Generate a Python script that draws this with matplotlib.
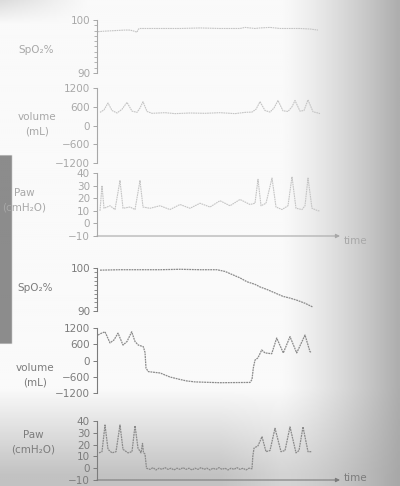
import numpy as np
import matplotlib
matplotlib.use("Agg")
import matplotlib.pyplot as plt

# ---------------- data (time in arbitrary units) ----------------
# Top group (normal)
top_spo2_t = [1, 8, 18, 28, 33, 37, 40, 41.5, 43, 63, 83, 103, 123, 143, 148, 153, 158, 163, 173, 183, 193, 203, 213, 221]
top_spo2_v = [97.8, 97.9, 98.0, 98.1, 98.1, 97.9, 97.7, 98.3, 98.4, 98.4, 98.4, 98.5, 98.4, 98.4, 98.6, 98.5, 98.4, 98.5, 98.6, 98.4, 98.4, 98.4, 98.3, 98.1]

top_vol_t = [3, 7, 11, 15, 20, 25, 30, 35, 40, 43, 46, 50, 55, 68, 78, 93, 108, 123, 138, 148, 155, 159, 163, 168, 173, 177, 181, 186, 191, 195, 198, 203, 207, 211, 216, 221, 223]
top_vol_v = [420, 500, 720, 480, 400, 520, 740, 460, 420, 560, 760, 450, 390, 410, 380, 400, 390, 410, 380, 420, 430, 520, 760, 480, 430, 560, 800, 470, 450, 600, 800, 460, 480, 820, 440, 400, 380]

top_paw_t = [3, 5, 7, 13, 18, 23, 26, 33, 38, 43, 46, 53, 63, 73, 83, 93, 103, 113, 123, 133, 143, 153, 158, 161, 164, 169, 175, 179, 185, 191, 195, 199, 205, 208, 211, 215, 221, 223]
top_paw_v = [10, 30, 12, 14, 11, 34, 12, 13, 11, 34, 13, 12, 14, 11, 15, 12, 16, 13, 18, 14, 19, 15, 16, 35, 14, 16, 36, 13, 11, 14, 37, 12, 11, 14, 36, 12, 10, 10]

# Bottom group (apnoea)
bot_spo2_t = [3, 23, 43, 63, 83, 103, 120, 128, 136, 143, 150, 158, 163, 170, 178, 186, 193, 200, 208, 216]
bot_spo2_v = [99.5, 99.6, 99.6, 99.6, 99.7, 99.6, 99.6, 99.2, 98.4, 97.7, 96.8, 96.2, 95.6, 95.0, 94.2, 93.4, 93.0, 92.5, 91.8, 90.9]

bot_vol_t = [1, 4, 8, 13, 17, 21, 26, 30, 34.7, 38, 41.3, 46.3, 48, 49, 51.3, 58, 63, 73, 83, 89.7, 98, 109.7, 123, 138, 153, 155, 156.3, 158, 161, 164.7, 168, 174.7, 179.7, 186.3, 193, 199.7, 208, 213, 214.7]
bot_vol_v = [940, 1000, 1060, 650, 760, 1010, 570, 700, 1060, 700, 570, 510, 300, -280, -410, -440, -460, -610, -700, -755, -790, -805, -820, -815, -810, -700, -280, 15, 100, 390, 280, 250, 830, 280, 880, 280, 940, 325, 300]

bot_paw_t = [2, 5, 8, 11, 15, 19, 23, 26, 31, 35, 38, 41, 44, 45.5, 46.5, 48, 49.5, 53, 56, 59, 62, 65, 68, 71, 74, 77, 80, 83, 86, 89, 92, 95, 98, 101, 104, 107, 110, 113, 116, 119, 122, 125, 128, 131, 134, 137, 140, 143, 146, 149, 152, 155, 155.8, 157, 161, 165, 169, 173, 178, 184, 188, 193, 199, 202, 206, 211, 215]
bot_paw_v = [13, 14, 36.6, 16, 13, 14, 36.6, 16, 13, 14, 36, 17, 13, 21, 13, 12, 0, -1, 0.5, -1.5, 0, -1, 0.5, -1, 0, -1.5, 0, -1, 0.5, -1, 0, -1.5, 0, -1, 0.5, -1, 0, -1.5, 0, -1, 0.5, -1, 0, -1.5, 0, -1, 0.5, -1, 0, -1.5, 0, -0.5, 10, 17, 19, 26.7, 14, 15, 33.8, 14, 15, 35, 13, 15, 35, 14, 14]

spo2_ticks = [90, 100]
vol_ticks = [-1200, -600, 0, 600, 1200]
paw_ticks = [-10, 0, 10, 20, 30, 40]
labels = ["SpO\u2082%", "volume\n(mL)", "Paw\n(cmH\u2082O)"]

# ---------------- figure ----------------
W, H = 400, 486
fig = plt.figure(figsize=(W / 100, H / 100), dpi=100)

# photographic paper background
bg = fig.add_axes([0, 0, 1, 1])
xx, yy = np.meshgrid(np.linspace(0, 1, 200), np.linspace(0, 1, 243))
dark = 0.30 * np.clip((xx - 0.70) / 0.30, 0, 1) ** 1.3
dark += 0.22 * np.clip((yy - 0.80) / 0.18, 0, 1) * np.clip((0.75 - xx) / 0.5 + 0.6, 0, 1)
dark += 0.12 * np.clip((0.05 - yy) / 0.05, 0, 1) * np.clip((0.22 - xx) / 0.22, 0, 1)
img = 0.98 - dark
band = (xx < 0.03) & (yy > 0.32) & (yy < 0.71)
img[band] = 0.55
bg.imshow(img, cmap="gray", vmin=0, vmax=1, aspect="auto", extent=[0, 1, 1, 0])
bg.set_xlim(0, 1)
bg.set_ylim(1, 0)
bg.axis("off")


def px_axes(top_px, bot_px):
    left = 97 / W
    width = 243 / W
    return fig.add_axes([left, 1 - bot_px / H, width, (bot_px - top_px) / H])


def style(ax, col, ylim, ticks, minor=None, arrow=False):
    ax.set_xlim(0, 243)
    ax.set_ylim(*ylim)
    ax.patch.set_alpha(0)
    for s in ["top", "right", "bottom"]:
        ax.spines[s].set_visible(False)
    ax.spines["left"].set_color(col)
    ax.spines["left"].set_linewidth(0.8)
    ax.set_xticks([])
    ax.set_yticks(ticks)
    ax.set_yticklabels([str(t).replace("-", "\u2212") for t in ticks])
    if minor is not None:
        ax.set_yticks(minor, minor=True)
        ax.tick_params(axis="y", which="minor", length=2, color=col, width=0.6)
    ax.tick_params(axis="y", which="major", length=3, color=col, width=0.7,
                   labelsize=7.5, labelcolor=col, pad=2)
    if arrow:
        ax.annotate("", xy=(1.0, 0), xytext=(0, 0), xycoords="axes fraction",
                    arrowprops=dict(arrowstyle="-|>", color=col, lw=0.8,
                                    mutation_scale=6, shrinkA=0, shrinkB=0))


groups = [
    dict(col="#a8a8a8", line="#c4c4c4", lw=0.8,
         px=[(20, 73), (88, 163), (173, 236)],
         data=[(top_spo2_t, top_spo2_v), (top_vol_t, top_vol_v), (top_paw_t, top_paw_v)],
         lab_xy=[(36, 50), (37, 124), (24, 200)], time_y=241),
    dict(col="#7c7c7c", line="#8a8a8a", lw=0.9,
         px=[(268, 311), (328, 393), (421, 480)],
         data=[(bot_spo2_t, bot_spo2_v), (bot_vol_t, bot_vol_v), (bot_paw_t, bot_paw_v)],
         lab_xy=[(35, 288), (35, 375), (33, 442)], time_y=478),
]

for g in groups:
    axs = [px_axes(*p) for p in g["px"]]
    style(axs[0], g["col"], (90, 100), spo2_ticks, minor=list(range(91, 100)))
    style(axs[1], g["col"], (-1200, 1200), vol_ticks)
    style(axs[2], g["col"], (-10, 40), paw_ticks, arrow=True)
    for ax, (t, v) in zip(axs, g["data"]):
        ax.plot(t, v, color=g["line"], lw=g["lw"], ls=(0, (1.5, 0.6)))
    for (lx, ly), lab in zip(g["lab_xy"], labels):
        fig.text(lx / W, 1 - ly / H, lab, ha="center", va="center",
                 fontsize=7.5, color=g["col"], linespacing=1.5)
    fig.text(344 / W, 1 - g["time_y"] / H, "time", ha="left", va="center",
             fontsize=7.5, color=g["col"])

fig.savefig("out.png", dpi=100)
